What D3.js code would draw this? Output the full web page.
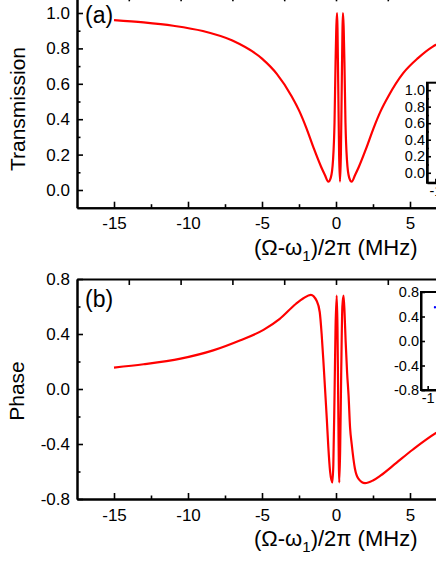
<!DOCTYPE html>
<html>
<head>
<meta charset="utf-8">
<script src="https://cdn.jsdelivr.net/npm/d3@7"></script>
<style>
    html, body { margin: 0; padding: 0; background: #fff; }
    svg { display: block; font-family: Arial, "Liberation Sans", sans-serif; }
</style>
</head>
<body>
<div id="chart"></div>
<script>
// values
const transFreq = [-15, -13, -11, -9, -7, -5, -4, -3, -2.5, -2, -1.5, -1, -0.75, -0.52, -0.35, -0.2, -0.1, -0.03, 0.07, 0.15, 0.21, 0.27, 0.33, 0.39, 0.47, 0.57, 0.64, 0.74, 0.89, 1.06, 1.29, 1.54, 2.04, 2.54, 3.04, 3.54, 4.54, 5.54, 6.54, 7.54, 8.54]
const transmission = [0.96, 0.947, 0.928, 0.898, 0.844, 0.742, 0.656, 0.53, 0.45, 0.35, 0.235, 0.13, 0.085, 0.047, 0.07, 0.17, 0.38, 0.72, 1.0, 0.6, 0.2, 0.047, 0.2, 0.6, 1.0, 0.72, 0.38, 0.17, 0.07, 0.047, 0.085, 0.13, 0.235, 0.35, 0.45, 0.53, 0.66, 0.745, 0.81, 0.85, 0.88]

const phaseFreq = [-15, -13, -10.5, -8.3, -6.5, -4.9, -3.8, -2.7, -2.2, -1.7, -1.3, -1.1, -0.97, -0.85, -0.74, -0.62, -0.52, -0.4, -0.25, -0.18, -0.1, -0.03, 0.05, 0.1, 0.15, 0.22, 0.28, 0.35, 0.43, 0.51, 0.58, 0.65, 0.75, 0.85, 0.95, 1.06, 1.28, 1.5, 1.96, 2.5, 3.0, 4.1, 5.2, 6.76, 8.0]
const phase = [0.156, 0.18, 0.221, 0.281, 0.353, 0.43, 0.51, 0.62, 0.66, 0.685, 0.64, 0.56, 0.40, 0.2, 0.0, -0.22, -0.42, -0.6, -0.68, -0.55, -0.05, 0.45, 0.68, 0.45, -0.1, -0.68, -0.45, 0.1, 0.6, 0.68, 0.55, 0.35, 0.12, -0.05, -0.28, -0.40, -0.58, -0.65, -0.685, -0.665, -0.63, -0.535, -0.44, -0.32, -0.25]

const xMajor = [-15, -10, -5, 0, 5]
const xMinor = [-12.5, -7.5, -2.5, 2.5, 7.5]
const xTop = [-14, -10.5, -7, -3.5, 0, 3.5, 7]
const transMajor = [0, 0.2, 0.4, 0.6, 0.8, 1.0]
const transMinor = [0.1, 0.3, 0.5, 0.7, 0.9]
const phaseMajor = [-0.8, -0.4, 0, 0.4, 0.8]
const phaseMinor = [-0.6, -0.2, 0.2, 0.6]

// insets (only their left edge is inside the picture)
const insetTransTicks = [0, 0.2, 0.4, 0.6, 0.8, 1.0]
const insetTransMinor = [0.1, 0.3, 0.5, 0.7, 0.9]
const insetPhaseTicks = [-0.8, -0.4, 0, 0.4, 0.8]
const insetXTicks = [-1]
const insetPhaseX = [-0.78]
const insetPhaseY = [0.55]

const W = 436, H = 564
const RED = '#ff0000'

const svg = d3.select('#chart').append('svg')
    .attr('width', W)
    .attr('height', H)

// plain hyphen instead of the unicode minus d3 uses
const fmt1 = d => d3.format('.1f')(d).replace('\u2212', '-')
const fmtInt = d => d3.format('d')(d).replace('\u2212', '-')

const x = d3.scaleLinear().domain([-17.5, 17.5]).range([77, 595])

const styleAxis = (g, width = 2) => {
    g.select('.domain').attr('stroke', '#000').attr('stroke-width', width)
    g.selectAll('.tick line').attr('stroke', '#000').attr('stroke-width', 1.6)
    g.selectAll('.tick text').attr('fill', '#000')
    return g
}

const drawPanel = ({ y, major, minor, xs, ys, tag, tagY, title, titleY, axisTitleY }) => {
    const [bottom, top] = y.range()
    const g = svg.append('g')

    // bottom axis with inward ticks
    g.append('g')
        .attr('transform', `translate(0,${bottom})`)
        .call(d3.axisBottom(x).tickValues(xMajor).tickSize(-6).tickSizeOuter(0).tickPadding(9.5).tickFormat(fmtInt))
        .call(styleAxis)
        .attr('font-size', null)
        .attr('font-family', null)
        .style('font-size', '17px')
    g.append('g')
        .attr('transform', `translate(0,${bottom})`)
        .call(d3.axisBottom(x).tickValues(xMinor).tickSize(-3.5).tickSizeOuter(0).tickFormat(''))
        .call(styleAxis)

    // top axis, ticks only
    g.append('g')
        .attr('transform', `translate(0,${top})`)
        .call(d3.axisTop(x).tickValues(xTop).tickSize(-6).tickSizeOuter(0).tickFormat(''))
        .call(styleAxis)

    // left axis
    g.append('g')
        .attr('transform', `translate(${x.range()[0]},0)`)
        .call(d3.axisLeft(y).tickValues(major).tickSize(-6).tickSizeOuter(0).tickPadding(7).tickFormat(fmt1))
        .call(styleAxis)
        .attr('font-size', null)
        .attr('font-family', null)
        .style('font-size', '17px')
    g.append('g')
        .attr('transform', `translate(${x.range()[0]},0)`)
        .call(d3.axisLeft(y).tickValues(minor).tickSize(-3.5).tickSizeOuter(0).tickFormat(''))
        .call(styleAxis)

    const line = d3.line()
        .x((d, i) => x(xs[i]))
        .y(d => y(d))
        .curve(d3.curveMonotoneX)

    g.append('path')
        .datum(ys)
        .attr('d', line)
        .attr('fill', 'none')
        .attr('stroke', RED)
        .attr('stroke-width', 2.2)
        .attr('stroke-linejoin', 'round')

    g.append('text')
        .attr('x', 85)
        .attr('y', tagY)
        .style('font-size', '23px')
        .text(tag)

    // y title
    g.append('text')
        .attr('transform', `translate(${titleY[0]},${titleY[1]}) rotate(-90)`)
        .attr('text-anchor', 'middle')
        .style('font-size', '21px')
        .text(title)

    // x title
    const xt = g.append('text')
        .attr('x', 254)
        .attr('y', axisTitleY)
        .style('font-size', '22px')
    xt.append('tspan').text('(Ω-ω')
    xt.append('tspan').attr('dy', 6).style('font-size', '15px').text('1')
    xt.append('tspan').attr('dy', -6).text(')/2π (MHz)')
}

const yTrans = d3.scaleLinear().domain([-0.1, 1.1]).range([207.7, -4.7])
const yPhase = d3.scaleLinear().domain([-0.8, 0.8]).range([499, 279])

drawPanel({
    y: yTrans, major: transMajor, minor: transMinor,
    xs: transFreq, ys: transmission, tag: '(a)', tagY: 23,
    title: 'Transmission', titleY: [25, 109], axisTitleY: 255
})

drawPanel({
    y: yPhase, major: phaseMajor, minor: phaseMinor,
    xs: phaseFreq, ys: phase, tag: '(b)', tagY: 307,
    title: 'Phase', titleY: [24, 391], axisTitleY: 546
})

const drawInset = ({ left, top, bottom, width, yDomain, major, minor, padY, padX, points }) => {
    const ix = d3.scaleLinear().domain([-1.2, 1.2]).range([left, left + width])
    const iy = d3.scaleLinear().domain(yDomain).range([bottom, top])
    const g = svg.append('g')

    g.append('rect')
        .attr('x', left).attr('y', top)
        .attr('width', width).attr('height', bottom - top)
        .attr('fill', '#fff')
        .attr('stroke', '#000')
        .attr('stroke-width', 2)

    g.append('g')
        .attr('transform', `translate(${left},0)`)
        .call(d3.axisLeft(iy).tickValues(major).tickSize(-4).tickSizeOuter(0).tickPadding(padY).tickFormat(fmt1))
        .call(styleAxis)
        .attr('font-size', null)
        .attr('font-family', null)
        .style('font-size', '14.5px')
    if (minor)
        g.append('g')
            .attr('transform', `translate(${left},0)`)
            .call(d3.axisLeft(iy).tickValues(minor).tickSize(-2).tickSizeOuter(0).tickFormat(''))
            .call(styleAxis)

    g.append('g')
        .attr('transform', `translate(0,${bottom})`)
        .call(d3.axisBottom(ix).tickValues(insetXTicks).tickSize(-4).tickSizeOuter(0).tickPadding(padX).tickFormat(fmtInt))
        .call(styleAxis)
        .attr('font-size', null)
        .attr('font-family', null)
        .style('font-size', '14.5px')

    if (points)
        g.selectAll('.pt')
            .data(points[0])
            .enter().append('circle')
            .attr('class', 'pt')
            .attr('cx', d => ix(d))
            .attr('cy', (d, i) => iy(points[1][i]))
            .attr('r', 1.2)
            .attr('fill', '#0000ff')
}

drawInset({ left: 427, top: 82.7, bottom: 182.7, width: 100, yDomain: [-0.12, 1.09], major: insetTransTicks, minor: insetTransMinor, padY: 2, padX: 3 })
drawInset({ left: 421, top: 292, bottom: 390, width: 80, yDomain: [-0.8, 0.8], major: insetPhaseTicks, padY: 2, padX: 2.4, points: [insetPhaseX, insetPhaseY] })
</script>
</body>
</html>
